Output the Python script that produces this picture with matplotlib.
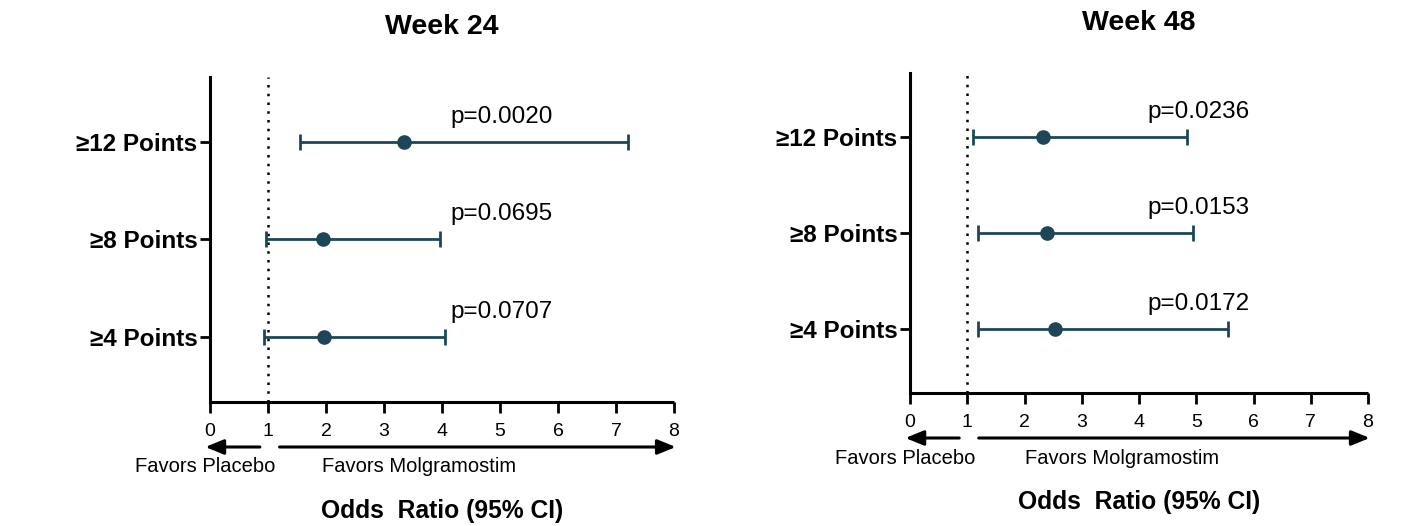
import matplotlib
matplotlib.use("Agg")
import matplotlib.pyplot as plt

plt.rcParams['font.family'] = ['Liberation Sans', 'DejaVu Sans']

categories = ['≥12 Points', '≥8 Points', '≥4 Points']
titles = ['Week 24', 'Week 48']

wk24_or = [3.35, 1.94, 1.96]
wk24_lo = [1.56, 0.96, 0.93]
wk24_hi = [7.21, 3.97, 4.06]
wk24_p = ['p=0.0020', 'p=0.0695', 'p=0.0707']

wk48_or = [2.32, 2.40, 2.54]
wk48_lo = [1.10, 1.18, 1.18]
wk48_hi = [4.84, 4.95, 5.56]
wk48_p = ['p=0.0236', 'p=0.0153', 'p=0.0172']

xticks = [0, 1, 2, 3, 4, 5, 6, 7, 8]
COL = '#1d4658'

W, H = 1402, 526
fig = plt.figure(figsize=(W/100, H/100), dpi=100)

# axes boxes in pixels: left, right, top, bottom
boxes = [(210, 674, 77, 402), (910, 1368, 73, 393)]
panels = [(wk24_or, wk24_lo, wk24_hi, wk24_p), (wk48_or, wk48_lo, wk48_hi, wk48_p)]
molg_x = [3.6, 3.7]
arrow = dict(arrowstyle='-|>,head_length=1.1,head_width=0.45',
             color='black', lw=2.2, shrinkA=0, shrinkB=0)

for k, ((l, r, t, b), (orr, lo, hi, pv)) in enumerate(zip(boxes, panels)):
    ax = fig.add_axes([l/W, 1-b/H, (r-l)/W, (b-t)/H])
    hpx = b - t
    ys = [3, 2, 1]
    err = [[o - a for o, a in zip(orr, lo)], [c - o for o, c in zip(orr, hi)]]
    ax.errorbar(orr, ys, xerr=err, fmt='o', color=COL, ms=9.5, elinewidth=2,
                capsize=6, capthick=2, zorder=3)
    for y, s in zip(ys, pv):
        ax.text(4.15, y + 0.26, s, fontsize=17.5, ha='left', va='center')
    ax.axvline(1, color='black', ls=(0, (1, 2.5)), lw=1.8, zorder=1)

    ax.set_xlim(0, 8)
    ax.set_ylim(0.33, 3.67)
    ax.set_xticks(xticks)
    ax.set_yticks(ys)
    ax.set_yticklabels(categories, fontsize=17.5, fontweight='bold')
    ax.tick_params(axis='x', labelsize=14, length=8, width=2, pad=7)
    ax.tick_params(axis='y', length=7, width=2, pad=2)
    for sp in ['top', 'right']:
        ax.spines[sp].set_visible(False)
    for sp in ['left', 'bottom']:
        ax.spines[sp].set_linewidth(2.2)
    ax.spines['bottom'].set_capstyle('butt')

    tr = ax.get_xaxis_transform()
    ya = -45 / hpx
    ax.annotate('', xy=(-0.08, ya), xytext=(0.86, ya), xycoords=tr, textcoords=tr,
                arrowprops=arrow, annotation_clip=False)
    ax.annotate('', xy=(8.03, ya), xytext=(1.2, ya), xycoords=tr, textcoords=tr,
                arrowprops=arrow, annotation_clip=False)
    ax.text(-0.08, -65 / hpx, 'Favors Placebo', transform=tr, fontsize=14.5,
            ha='center', va='center')
    ax.text(molg_x[k], -65 / hpx, 'Favors Molgramostim', transform=tr, fontsize=14.5,
            ha='center', va='center')
    ax.text(0.5, -109 / hpx, 'Odds  Ratio (95% CI)', transform=ax.transAxes,
            fontsize=17.75, fontweight='bold', ha='center', va='center')
    ax.text(0.5, 1 + 50 / hpx, titles[k], transform=ax.transAxes,
            fontsize=20.5, fontweight='bold', ha='center', va='center')

fig.savefig('out.png', dpi=100, facecolor='white')
